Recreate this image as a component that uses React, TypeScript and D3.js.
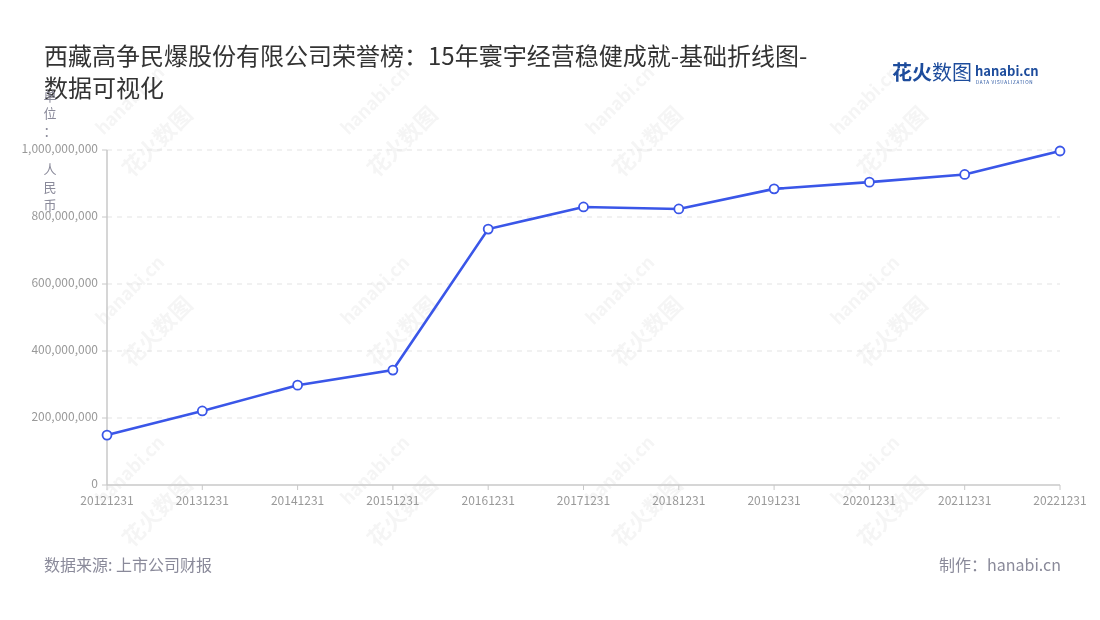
import React from "react";
import * as d3 from "d3";

const categories = ["20121231","20131231","20141231","20151231","20161231","20171231","20181231","20191231","20201231","20211231","20221231"];
const values = [149000000, 221000000, 298000000, 343000000, 764000000, 830000000, 824000000, 884000000, 904000000, 927000000, 997000000];
const yTicks = [0, 200000000, 400000000, 600000000, 800000000, 1000000000];
const unitChars = ["单", "位", "：", "人", "民", "币"];

const W = 1100, H = 620;
const M = { left: 107, right: 1060, top: 150, bottom: 485 };
const FONT = "'Noto Sans CJK SC', 'Noto Sans', sans-serif";

export default function App() {
  const x = d3.scalePoint<string>().domain(categories).range([M.left, M.right]);
  const y = d3.scaleLinear().domain([0, 1000000000]).range([M.bottom, M.top]);
  const line = d3.line<number>().x((_, i) => x(categories[i])!).y((d) => y(d));
  const fmt = d3.format(",");
  const unitY = [97, 114, 132, 170, 188, 206];

  const wm: { cx: number; cy: number }[] = [];
  for (const cx of [160, 405, 650, 895]) for (const cy of [150, 340, 520]) wm.push({ cx, cy });

  return (
    <svg width={W} height={H} style={{ display: "block", position: "absolute", left: 0, top: 0 }} fontFamily={FONT}>
      <rect width={W} height={H} fill="#fff" />
      {/* watermarks */}
      <g opacity={0.05} fill="#333">
        {wm.map((p, i) => (
          <g key={i} transform={`translate(${p.cx},${p.cy}) rotate(-45)`}>
            <text x={-40} y={0} fontSize={22} fontWeight={700}>花火数图</text>
            <text x={-30} y={-50} fontSize={18} fontWeight={700}>hanabi.cn</text>
          </g>
        ))}
      </g>
      {/* title */}
      <text x={44} y={65} fontSize={24} fill="#333">西藏高争民爆股份有限公司荣誉榜：15年寰宇经营稳健成就-基础折线图-</text>
      <text x={44} y={97} fontSize={24} fill="#333">数据可视化</text>
      {/* logo */}
      <text x={892} y={80} fontSize={20} fontWeight={700} fill="#1d4c9c">花火</text>
      <text x={932} y={80} fontSize={20} fill="#1d4c9c">数图</text>
      <text x={975} y={76} fontSize={13} fontWeight={700} fill="#1d4c9c">hanabi.cn</text>
      <text x={976} y={84} fontSize={4.6} fill="#1d4c9c" letterSpacing={0.7}>DATA VISUALIZATION</text>
      {/* unit label */}
      {unitChars.map((c, i) => (
        <text key={i} x={50} y={unitY[i]} fontSize={13} fill="#8a8a9a" textAnchor="middle" dominantBaseline="middle">{c}</text>
      ))}
      {/* grid */}
      {yTicks.filter((t) => t > 0).map((t) => (
        <line key={t} x1={M.left} x2={M.right} y1={y(t)} y2={y(t)} stroke="#e3e3e3" strokeDasharray="5,5" />
      ))}
      {/* y axis */}
      <line x1={M.left} x2={M.left} y1={M.top} y2={M.bottom} stroke="#c8c8c8" strokeWidth={1.5} />
      {yTicks.map((t) => (
        <g key={t}>
          <line x1={M.left - 5} x2={M.left} y1={y(t)} y2={y(t)} stroke="#c8c8c8" />
          <text x={M.left - 9} y={y(t)} fontSize={12} fill="#999" textAnchor="end" dominantBaseline="middle">{fmt(t)}</text>
        </g>
      ))}
      {/* x axis */}
      <line x1={M.left} x2={M.right} y1={M.bottom} y2={M.bottom} stroke="#c8c8c8" strokeWidth={1.5} />
      {categories.map((c) => (
        <g key={c}>
          <line x1={x(c)} x2={x(c)} y1={M.bottom} y2={M.bottom + 5} stroke="#c8c8c8" />
          <text x={x(c)} y={M.bottom + 17} fontSize={12} fill="#999" textAnchor="middle" dominantBaseline="middle">{c}</text>
        </g>
      ))}
      {/* line */}
      <path d={line(values) || ""} fill="none" stroke="#3a56e8" strokeWidth={2.6} />
      {values.map((v, i) => (
        <circle key={i} cx={x(categories[i])} cy={y(v)} r={4.5} fill="#fff" stroke="#3a56e8" strokeWidth={1.8} />
      ))}
      {/* footer */}
      <text x={44} y={567} fontSize={16} fill="#8a8a9a" dominantBaseline="middle">数据来源: 上市公司财报</text>
      <text x={1061} y={567} fontSize={16} fill="#8a8a9a" textAnchor="end" dominantBaseline="middle">制作：hanabi.cn</text>
    </svg>
  );
}
